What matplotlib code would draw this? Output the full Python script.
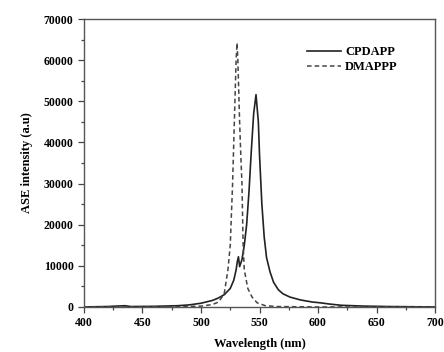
import matplotlib
matplotlib.use("Agg")
import matplotlib.pyplot as plt
from matplotlib.ticker import MultipleLocator

# CPDAPP (solid)
cp_wl = [400, 420, 435, 440, 460, 480, 490, 500, 510, 515, 520, 525, 528, 530, 531, 532,
         533, 535, 537, 539, 541, 543, 545, 547, 549, 550, 552, 554, 556, 559, 562, 566,
         570, 576, 585, 595, 602, 610, 620, 640, 660, 680, 700]
cp_int = [0, 100, 300, 100, 150, 300, 500, 900, 1600, 2200, 3000, 4500, 6500, 9000, 11000, 12200,
          9800, 11500, 15000, 20000, 28000, 38000, 47000, 51600, 45000, 37000, 25000, 17000, 12000, 8500, 6000, 4200,
          3200, 2400, 1700, 1200, 1000, 700, 400, 200, 100, 50, 0]

# DMAPPP (dashed)
dm_wl = [400, 450, 480, 500, 510, 515, 518, 520, 523, 525, 527, 528.5, 530, 530.8, 531.5,
         533, 534, 535, 536, 537, 540, 543.6, 548, 555, 565, 600, 700]
dm_int = [0, 0, 50, 200, 600, 1200, 2400, 3500, 9000, 15000, 30000, 45000, 60000, 64200, 60000,
          45000, 37000, 30000, 15000, 9000, 4500, 2400, 1000, 300, 100, 0, 0]

series_labels = ["CPDAPP", "DMAPPP"]

plt.rcParams['font.family'] = ['Liberation Serif', 'DejaVu Serif']
plt.rcParams['font.weight'] = 'bold'

fig = plt.figure(figsize=(4.44, 3.52), dpi=100, facecolor='white')
ax = fig.add_axes([0.189, 0.128, 0.791, 0.818])

ax.plot(cp_wl, cp_int, color='#222222', lw=1.2, ls='-', label=series_labels[0])
ax.plot(dm_wl, dm_int, color='#444444', lw=1.1, ls=(0, (3, 2)), label=series_labels[1])

ax.set_xlim(400, 700)
ax.set_ylim(0, 70000)
ax.xaxis.set_major_locator(MultipleLocator(50))
ax.xaxis.set_minor_locator(MultipleLocator(25))
ax.yaxis.set_major_locator(MultipleLocator(10000))
ax.yaxis.set_minor_locator(MultipleLocator(5000))
ax.tick_params(which='both', direction='out', top=False, right=False,
               labelsize=8.5, color='#444444', width=0.9)
ax.tick_params(which='major', length=4)
ax.tick_params(which='minor', length=2.5)
for lab in ax.get_xticklabels() + ax.get_yticklabels():
    lab.set_fontweight('bold')
for s in ax.spines.values():
    s.set_color('#555555')
    s.set_linewidth(1.0)

ax.set_xlabel('Wavelength (nm)', fontsize=9, fontweight='bold', labelpad=6)
ax.set_ylabel('ASE intensity (a.u)', fontsize=9, fontweight='bold', labelpad=8)

leg = ax.legend(loc='upper right', bbox_to_anchor=(0.925, 0.945), frameon=False,
                fontsize=9, handlelength=2.7, handletextpad=0.3, labelspacing=0.25)
for t in leg.get_texts():
    t.set_fontweight('bold')

fig.savefig('out.png', dpi=100, facecolor='white')
